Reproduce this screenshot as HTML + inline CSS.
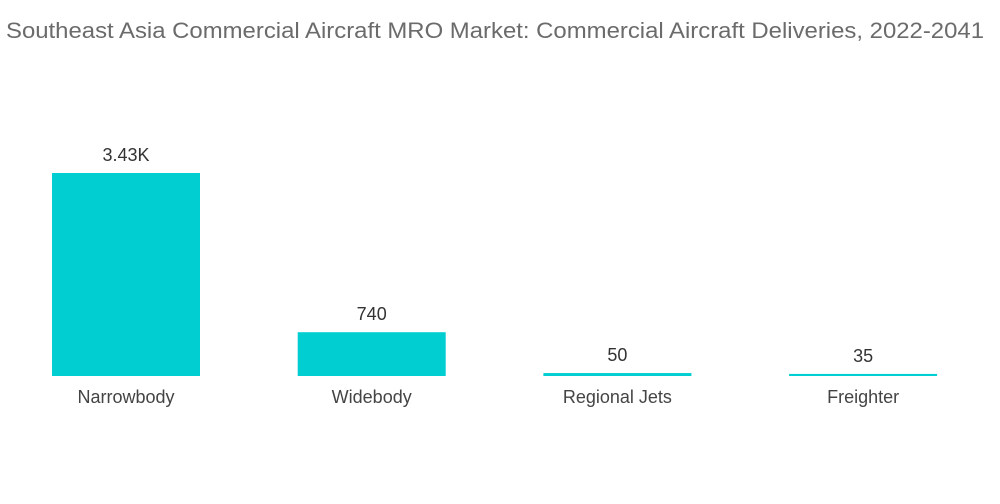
<!DOCTYPE html>
<html><head><meta charset="utf-8"><style>
body{margin:0;background:#fff;width:1000px;height:504px;overflow:hidden;font-family:"Liberation Sans",sans-serif;}
</style></head><body>
<svg id="chart" width="1000" height="504" style="position:absolute;left:0;top:0">
<text x="6" y="38" font-size="22" fill="#6b6b6b" font-family="Liberation Sans, sans-serif" textLength="978" lengthAdjust="spacingAndGlyphs">Southeast Asia Commercial Aircraft MRO Market: Commercial Aircraft Deliveries, 2022-2041</text>
</svg>
<script>
const categories=["Narrowbody","Widebody","Regional Jets","Freighter"];
const values=[3430,740,50,35];
const valueLabels=["3.43K","740","50","35"];
const svg=document.getElementById('chart');
const NS="http://www.w3.org/2000/svg";
const baseY=376, maxH=203, maxV=3430;
const y=v=>baseY-v/maxV*maxH;
const x0=52, step=245.7, bw=148;
const xc=i=>x0+i*step;
categories.forEach((c,i)=>{
  const r=document.createElementNS(NS,'rect');
  
  
  r.setAttribute('x',xc(i));r.setAttribute('width',bw);
  const top=y(values[i]);
  r.setAttribute('y',top);r.setAttribute('height',Math.max(2,baseY-top));
  r.setAttribute('fill','#00CED1');svg.appendChild(r);
  const t=document.createElementNS(NS,'text');
  
  
  t.setAttribute('x',xc(i)+bw/2);t.setAttribute('y',Math.min(top,baseY-2)-12);
  t.setAttribute('text-anchor','middle');t.setAttribute('font-size','18');t.setAttribute('fill','#333');
  t.setAttribute('font-family','Liberation Sans, sans-serif');
  t.textContent=valueLabels[i];svg.appendChild(t);
  const l=document.createElementNS(NS,'text');
  
  
  l.setAttribute('x',xc(i)+bw/2);l.setAttribute('y',403);
  l.setAttribute('text-anchor','middle');l.setAttribute('font-size','18');l.setAttribute('fill','#444');
  l.setAttribute('font-family','Liberation Sans, sans-serif');
  l.textContent=c;svg.appendChild(l);
});
</script>
</body></html>
